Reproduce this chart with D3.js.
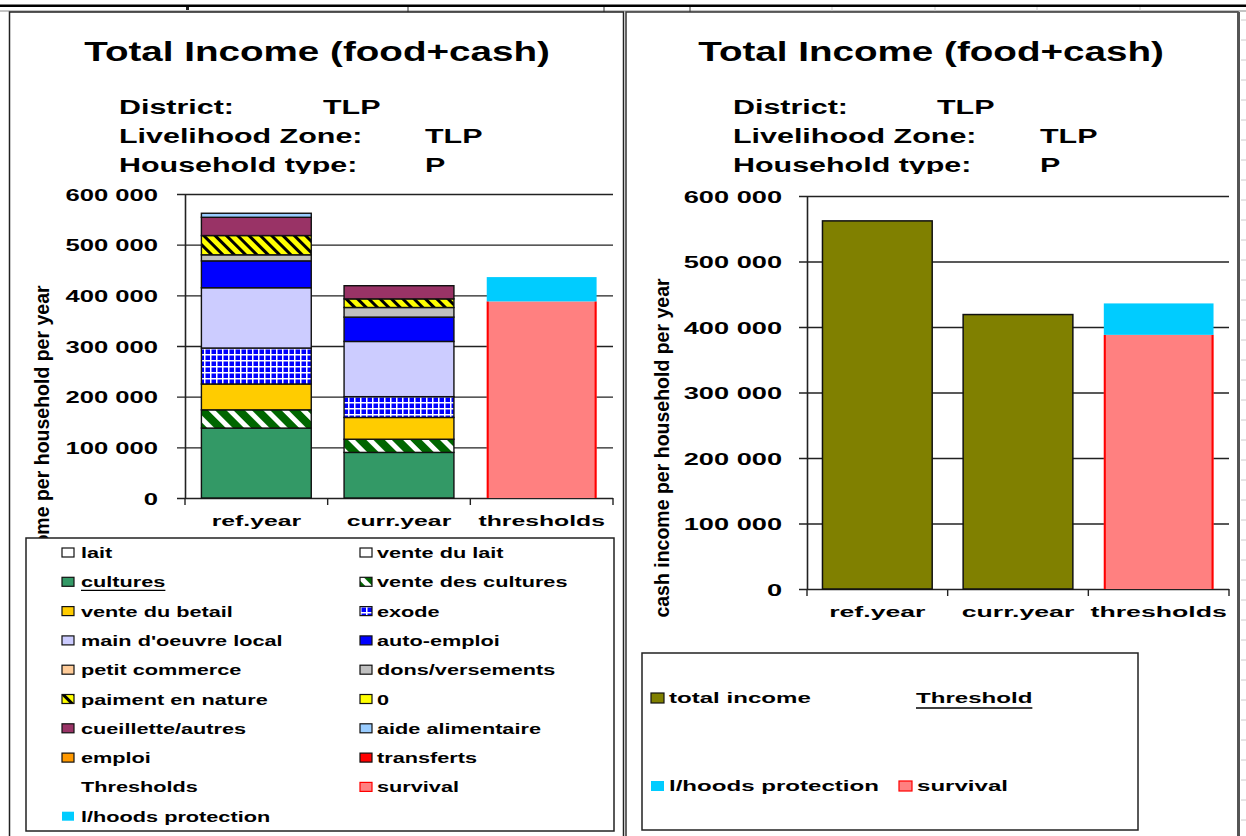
<!DOCTYPE html>
<html>
<head>
<meta charset="utf-8">
<script src="https://cdn.jsdelivr.net/npm/d3@7"></script>
<style>
  html, body { margin: 0; padding: 0; background: #fff; }
  svg { display: block; font-family: "Liberation Sans", Arial, sans-serif; }
</style>
</head>
<body>
<svg id="chart" width="1246" height="836"></svg>
<script>
// ---- data ----
var categories = ['ref.year', 'curr.year', 'thresholds'];
var incomeSources = ['lait', 'vente du lait', 'cultures', 'vente des cultures', 'vente du betail', 'exode',
  "main d'oeuvre local", 'auto-emploi', 'petit commerce', 'dons/versements', 'paiment en nature', '0',
  'cueillette/autres', 'aide alimentaire', 'emploi', 'transferts'];
var refYearIncome  = [0, 0, 138000, 36000, 51000, 71000, 119000, 53000, 0, 12000, 38000, 0, 36000, 8000, 0, 0];
var currYearIncome = [0, 0, 90000, 26000, 43000, 41000, 109000, 48000, 0, 19000, 17000, 0, 26000, 0, 0, 0];
var thresholdNames = ['survival', 'l/hoods protection'];
var thresholdValues = [388000, 48000];
var yTicks = [0, 100000, 200000, 300000, 400000, 500000, 600000];

// styles
var sourceFill = ['#ffffff', '#ffffff', '#339966', 'url(#crop-stripes)', '#ffcc00', 'url(#exode-grid)',
  '#ccccff', '#0000ff', '#ffcc99', '#c0c0c0', 'url(#pay-stripes)', '#ffff00',
  '#993366', '#99ccff', '#ff9900', '#ff0000'];
var thresholdFill = ['#ff8080', '#00ccff'];
var totalFill = '#808000';

var fmt = function(v) { return d3.format(',')(v).replace(/,/g, ' '); };

var svg = d3.select('#chart');
var defs = svg.append('defs');

function stripes(id, bg, fg, period, w) {
  var p = defs.append('pattern').attr('id', id)
    .attr('patternUnits', 'userSpaceOnUse')
    .attr('width', period).attr('height', period)
    .attr('patternTransform', 'rotate(-45)');
  p.append('rect').attr('width', period).attr('height', period).attr('fill', bg);
  p.append('rect').attr('width', w).attr('height', period).attr('fill', fg);
}
stripes('crop-stripes', '#006600', '#ffffff', 13, 5);
stripes('pay-stripes', '#ffff00', '#000000', 8, 3);

var grid = defs.append('pattern').attr('id', 'exode-grid')
  .attr('patternUnits', 'userSpaceOnUse').attr('width', 6).attr('height', 6);
grid.append('rect').attr('width', 6).attr('height', 6).attr('fill', '#0000ff');
grid.append('rect').attr('width', 6).attr('height', 1.5).attr('fill', '#ffffff');
grid.append('rect').attr('width', 1.5).attr('height', 6).attr('fill', '#ffffff');

defs.append('clipPath').attr('id', 'head-clip')
  .append('rect').attr('x', 0).attr('y', 0).attr('width', 1246).attr('height', 174);

// the picture is stretched sideways, so text gets a horizontal scale
function label(g, x, y, str, size, sx, anchor, weight) {
  return g.append('text')
    .attr('transform', 'translate(' + x + ',' + y + ') scale(' + sx + ',1)')
    .attr('text-anchor', anchor || 'start')
    .style('font-size', size + 'px')
    .style('font-weight', weight || 'bold')
    .attr('fill', '#000')
    .text(str);
}

function underline(g, t, x, y, sx) {
  var w = t.node().getComputedTextLength() * sx;
  g.append('line').attr('x1', x).attr('x2', x + w).attr('y1', y).attr('y2', y)
    .attr('stroke', '#000').attr('stroke-width', 1.3);
}

// ---- spreadsheet background ----
svg.append('rect').attr('x', 0).attr('y', 4.5).attr('width', 1246).attr('height', 2.5).attr('fill', '#000');
svg.append('line').attr('x1', 0).attr('x2', 1246).attr('y1', 11).attr('y2', 11).attr('stroke', '#888');
[408, 604, 690].forEach(function(x) {
  svg.append('line').attr('x1', x).attr('x2', x).attr('y1', 7).attr('y2', 12).attr('stroke', '#333');
});
[832, 935, 1037, 1140].forEach(function(x) {
  svg.append('line').attr('x1', x).attr('x2', x).attr('y1', 7).attr('y2', 12).attr('stroke', '#ccc');
});
svg.append('rect').attr('x', 186).attr('y', 7).attr('width', 3).attr('height', 3).attr('fill', '#222');
d3.range(20, 836, 20).forEach(function(y) {
  svg.append('line').attr('x1', 1241).attr('x2', 1246).attr('y1', y).attr('y2', y).attr('stroke', '#ccc');
});

// frames
svg.append('rect').attr('x', 9.5).attr('y', 12).attr('width', 614).attr('height', 840)
  .attr('fill', '#fff').attr('stroke', '#222').attr('stroke-width', 1.5);
svg.append('rect').attr('x', 626).attr('y', 12).attr('width', 612).attr('height', 840)
  .attr('fill', '#fff').attr('stroke', '#333').attr('stroke-width', 1.5);
svg.append('line').attr('x1', 1238.5).attr('x2', 1238.5).attr('y1', 12).attr('y2', 836)
  .attr('stroke', '#555').attr('stroke-width', 3);

// ---- headers ----
function header(cx, x0, xv1, xv2) {
  label(svg, cx, 61, 'Total Income (food+cash)', 27, 1.43, 'middle');
  var info = svg.append('g').attr('clip-path', 'url(#head-clip)');
  label(info, x0, 114, 'District:', 21, 1.45);
  label(info, xv1, 114, 'TLP', 21, 1.45);
  label(info, x0, 143, 'Livelihood Zone:', 21, 1.45);
  label(info, xv2, 143, 'TLP', 21, 1.45);
  label(info, x0, 172, 'Household type:', 21, 1.45);
  label(info, xv2, 172, 'P', 21, 1.45);
}
header(317, 119, 323, 425);
header(931, 733, 937, 1040);

// ---- shared pieces ----
function valueAxis(y, x0, x1, labelEnd, size, sx) {
  var g = svg.append('g').attr('transform', 'translate(' + x0 + ',0)')
    .call(d3.axisLeft(y).tickValues(yTicks).tickFormat(fmt)
      .tickSizeInner(-(x1 - x0)).tickSizeOuter(0).tickPadding(0));
  g.attr('font-family', null).attr('font-size', null);
  g.selectAll('.tick line').attr('x1', -8).attr('stroke', '#222').attr('stroke-width', 1.4);
  g.select('.domain').attr('stroke', '#222').attr('stroke-width', 1.6);
  g.selectAll('.tick text')
    .attr('x', null).attr('dy', null)
    .attr('transform', 'translate(' + (labelEnd - x0) + ',6) scale(' + sx + ',1)')
    .attr('fill', '#000')
    .style('font-size', size + 'px').style('font-weight', 'bold');
}

function categoryAxis(x, y0, baseline, size, sx) {
  var r = x.range();
  d3.range(categories.length + 1).forEach(function(i) {
    var px = r[0] + i * x.step();
    svg.append('line').attr('x1', px).attr('x2', px).attr('y1', y0).attr('y2', y0 + 7)
      .attr('stroke', '#222').attr('stroke-width', 1.4);
  });
  categories.forEach(function(c) {
    label(svg, x(c) + x.bandwidth() / 2, baseline, c, size, sx, 'middle');
  });
}

function thresholdBar(x, y) {
  var row = { category: 'thresholds' };
  thresholdNames.forEach(function(n, j) { row[n] = thresholdValues[j]; });
  var st = d3.stack().keys(thresholdNames)([row]);
  var bx = x('thresholds'), bw = x.bandwidth();
  st.forEach(function(s, j) {
    var d = s[0];
    svg.append('rect').attr('x', bx).attr('width', bw)
      .attr('y', y(d[1])).attr('height', y(d[0]) - y(d[1]))
      .attr('fill', thresholdFill[j]);
    if (j === 0) {
      [bx + 1, bx + bw - 1].forEach(function(px) {
        svg.append('line').attr('x1', px).attr('x2', px).attr('y1', y(d[1])).attr('y2', y(d[0]))
          .attr('stroke', '#ff0000').attr('stroke-width', 2);
      });
    }
  });
}

function yTitle(x, cy) {
  svg.append('text')
    .attr('transform', 'translate(' + x + ',' + cy + ') rotate(-90)')
    .attr('text-anchor', 'middle')
    .style('font-size', '19.5px').style('font-weight', 'bold')
    .text('cash income per household per year');
}

// ---- left chart: stacked income sources ----
var yL = d3.scaleLinear().domain([0, 600000]).range([498, 194]);
var xL = d3.scaleBand().domain(categories).range([185, 613]).paddingInner(0.23).paddingOuter(0.115);

yTitle(49, 455);
valueAxis(yL, 185, 613, 158, 16, 1.6);

var rowsL = [refYearIncome, currYearIncome].map(function(vals, i) {
  var r = { category: categories[i] };
  incomeSources.forEach(function(s, j) { r[s] = vals[j]; });
  return r;
});
var stackL = d3.stack().keys(incomeSources)(rowsL);
stackL.forEach(function(s, j) {
  s.forEach(function(d) {
    if (d[1] - d[0] <= 0) return;
    svg.append('rect')
      .attr('x', xL(d.data.category)).attr('width', xL.bandwidth())
      .attr('y', yL(d[1])).attr('height', yL(d[0]) - yL(d[1]))
      .attr('fill', sourceFill[j]).attr('stroke', '#111').attr('stroke-width', 1.4);
  });
});
thresholdBar(xL, yL);
categoryAxis(xL, 498, 526, 15, 1.65);

// left legend
var legL = svg.append('g');
legL.append('rect').attr('x', 26).attr('y', 538).attr('width', 588).attr('height', 293)
  .attr('fill', '#fff').attr('stroke', '#222').attr('stroke-width', 1.5);
var legendL = incomeSources.concat(['Thresholds'], thresholdNames);
var legendLFill = sourceFill.concat([null], thresholdFill);
legendL.forEach(function(name, i) {
  var col = i % 2, row = Math.floor(i / 2);
  var cy = 553 + row * 29.3;
  var sx0 = col ? 360 : 62, tx = col ? 377 : 81;
  if (legendLFill[i]) {
    var stroke = name === 'l/hoods protection' ? 'none' : (name === 'survival' ? '#ff0000' : '#111');
    legL.append('rect').attr('x', sx0).attr('y', cy - 5).attr('width', 12).attr('height', 9)
      .attr('fill', legendLFill[i]).attr('stroke', stroke).attr('stroke-width', 1.2);
  }
  var t = label(legL, tx, cy + 5, name, 14, 1.55);
  if (name === 'cultures') underline(legL, t, tx, cy + 8, 1.55);
});

// ---- right chart: total income ----
var yR = d3.scaleLinear().domain([0, 600000]).range([589, 196]);
var xR = d3.scaleBand().domain(categories).range([807, 1229]).paddingInner(0.22).paddingOuter(0.11);
var totalIncome = [d3.sum(refYearIncome), d3.sum(currYearIncome)];

yTitle(669, 448);
valueAxis(yR, 807, 1229, 782, 17, 1.6);
totalIncome.forEach(function(v, i) {
  svg.append('rect')
    .attr('x', xR(categories[i])).attr('width', xR.bandwidth())
    .attr('y', yR(v)).attr('height', yR(0) - yR(v))
    .attr('fill', totalFill).attr('stroke', '#111').attr('stroke-width', 1.5);
});
thresholdBar(xR, yR);
categoryAxis(xR, 589, 617, 15.5, 1.72);

// right legend
var legR = svg.append('g');
legR.append('rect').attr('x', 642).attr('y', 653).attr('width', 496).attr('height', 177)
  .attr('fill', '#fff').attr('stroke', '#222').attr('stroke-width', 1.5);
legR.append('rect').attr('x', 651).attr('y', 693).attr('width', 13).attr('height', 10)
  .attr('fill', totalFill).attr('stroke', '#111').attr('stroke-width', 1.2);
label(legR, 669, 703, 'total income', 14, 1.72);
var thr = label(legR, 916, 703, 'Threshold', 14, 1.72);
underline(legR, thr, 916, 708, 1.72);
legR.append('rect').attr('x', 651).attr('y', 781).attr('width', 13).attr('height', 10)
  .attr('fill', thresholdFill[1]);
label(legR, 669, 791, thresholdNames[1], 14, 1.72);
legR.append('rect').attr('x', 899).attr('y', 781).attr('width', 13).attr('height', 10)
  .attr('fill', thresholdFill[0]).attr('stroke', '#ff0000').attr('stroke-width', 1.2);
label(legR, 917, 791, thresholdNames[0], 14, 1.72);
</script>
</body>
</html>
